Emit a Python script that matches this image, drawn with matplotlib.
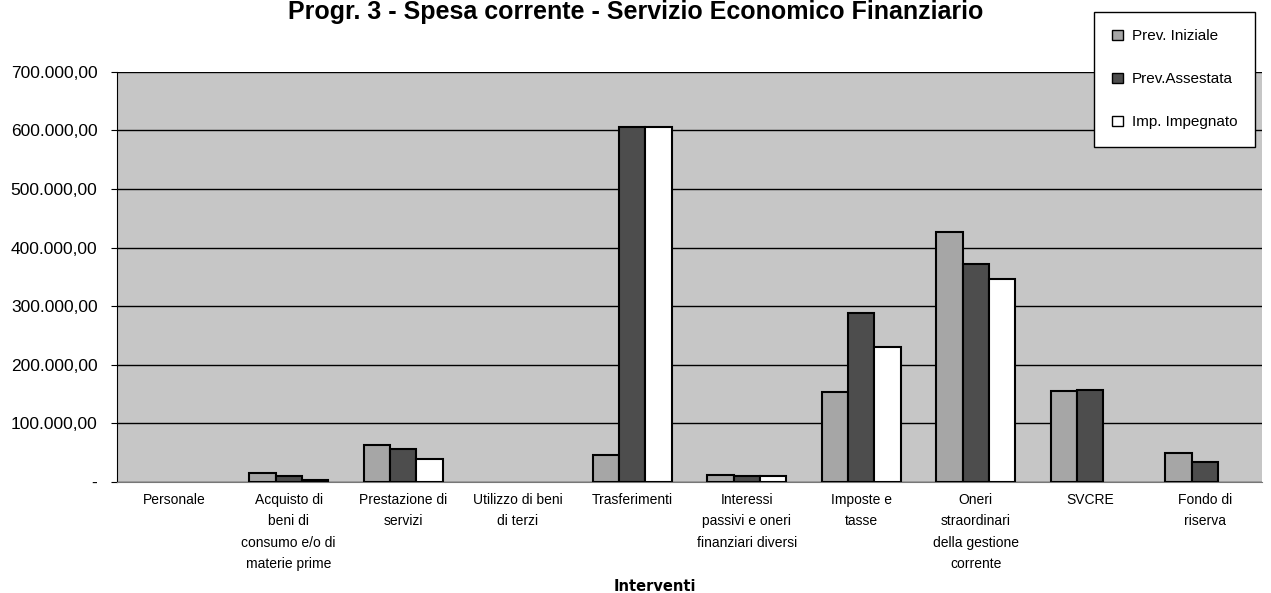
import matplotlib.pyplot as plt
import numpy as np
from matplotlib.ticker import FuncFormatter
from matplotlib.patches import Patch

plt.rcParams['font.family'] = ['Liberation Sans', 'DejaVu Sans']

categories = ['Personale', 'Acquisto di\nbeni di\nconsumo e/o di\nmaterie prime',
              'Prestazione di\nservizi', 'Utilizzo di beni\ndi terzi', 'Trasferimenti',
              'Interessi\npassivi e oneri\nfinanziari diversi', 'Imposte e\ntasse',
              'Oneri\nstraordinari\ndella gestione\ncorrente', 'SVCRE', 'Fondo di\nriserva']
series_names = ['Prev. Iniziale', 'Prev.Assestata', 'Imp. Impegnato']
prev_iniziale = [0, 15000, 64000, 0, 46000, 12000, 153000, 427000, 155000, 50000]
prev_assestata = [0, 11000, 57000, 0, 605000, 10000, 288000, 372000, 157000, 34000]
imp_impegnato = [0, 4000, 39000, 0, 605000, 11000, 230000, 347000, 0, 0]
yticks = [0, 100000, 200000, 300000, 400000, 500000, 600000, 700000]

colors = ['#a6a6a6', '#4d4d4d', '#ffffff']
values = [prev_iniziale, prev_assestata, imp_impegnato]

fig = plt.figure(figsize=(12.71, 5.93), dpi=100)
ax = fig.add_axes([0.092, 0.187, 0.901, 0.692])
ax.set_facecolor('#c6c6c6')

x = np.arange(len(categories))
w = 0.23
for i, (vals, c) in enumerate(zip(values, colors)):
    v = np.array(vals, dtype=float)
    v[v == 0] = np.nan  # empty values are not drawn
    ax.bar(x + (i - 1) * w, v, width=w, color=c, edgecolor='black',
           linewidth=1.5, zorder=3)

def fmt(v, pos):
    if v == 0:
        return '-'
    s = '{:,.2f}'.format(v)
    return s.replace(',', 'X').replace('.', ',').replace('X', '.')

ax.set_ylim(0, 700000)
ax.set_yticks(yticks)
ax.yaxis.set_major_formatter(FuncFormatter(fmt))
ax.yaxis.grid(True, color='black', linewidth=1.0, zorder=1)
ax.set_axisbelow(True)
ax.set_xlim(-0.5, len(categories) - 0.5)
ax.set_xticks(x)
ax.set_xticklabels(categories, fontsize=10, va='top', linespacing=1.65)
ax.tick_params(axis='x', length=0, pad=8)
ax.tick_params(axis='y', labelsize=12.5, length=4, pad=10)
for s in ['top', 'right']:
    ax.spines[s].set_visible(False)
ax.spines['left'].set_color('black')
ax.spines['bottom'].set_color('#777777')

ax.set_xlabel('Interventi', fontsize=10.5, fontweight='bold',
              family='DejaVu Sans')
ax.xaxis.set_label_coords(0.47, -0.235)

fig.suptitle('Progr. 3 - Spesa corrente - Servizio Economico Finanziario',
             fontsize=18, fontweight='bold', x=0.5, y=1.0)

handles = [Patch(facecolor=c, edgecolor='black') for c in colors]
leg = fig.legend(handles, series_names, loc='upper left',
                 bbox_to_anchor=(0.861, 0.98), fontsize=11, frameon=True,
                 fancybox=False, edgecolor='black', framealpha=1,
                 handlelength=0.7, handleheight=0.7, labelspacing=1.9,
                 borderpad=1.15, handletextpad=0.6, borderaxespad=0)
leg.get_frame().set_linewidth(1.0)

fig.savefig('out.png', dpi=100)
